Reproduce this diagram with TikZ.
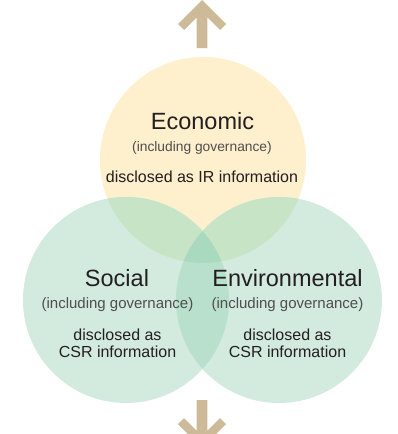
\documentclass[tikz,border=0pt]{standalone}
\usepackage{fontspec}
\setmainfont{Liberation Sans}
\definecolor{econfill}{HTML}{FEEFCD}
\definecolor{greenfill}{HTML}{D3EADF}
\definecolor{greengreen}{HTML}{B9E0CC}
\definecolor{econgreen}{HTML}{C8E4C6}
\definecolor{allthree}{HTML}{A9DABF}
\definecolor{arrowtan}{HTML}{CDBA98}
\definecolor{ink}{HTML}{231F20}
\definecolor{subink}{HTML}{4F4D4E}
\tikzset{
  heading/.style={anchor=base, inner sep=0pt, text=ink, font=\fontsize{23.5}{26}\selectfont},
  subhead/.style={anchor=base, inner sep=0pt, text=subink, font=\fontsize{15}{17}\selectfont},
  subheadsmall/.style={anchor=base, inner sep=0pt, text=subink, font=\fontsize{13.8}{16}\selectfont},
  bodytext/.style={anchor=base, inner sep=0pt, text=ink, font=\fontsize{16}{18}\selectfont},
  bigarrow/.style={fill=arrowtan, draw=none}
}
\begin{document}
\begin{tikzpicture}[x=1pt,y=-1pt]
\useasboundingbox (0,0) rectangle (398,434);
\clip (0,0) rectangle (398,434);
\def\R{103}
% circle centres
\coordinate (E) at (203,160);
\coordinate (S) at (126,300);
\coordinate (V) at (279,300);

% base discs
\fill[econfill] (E) circle[radius=\R];
\fill[greenfill] (S) circle[radius=\R];
\fill[greenfill] (V) circle[radius=\R];
% social / environmental overlap
\begin{scope}
  \clip (S) circle[radius=\R];
  \fill[greengreen] (V) circle[radius=\R];
\end{scope}
% economic overlaps
\begin{scope}
  \clip (E) circle[radius=\R];
  \fill[econgreen] (S) circle[radius=\R];
  \fill[econgreen] (V) circle[radius=\R];
\end{scope}
% centre, common to all three
\begin{scope}
  \clip (E) circle[radius=\R];
  \clip (S) circle[radius=\R];
  \fill[allthree] (V) circle[radius=\R];
\end{scope}

% upward and downward arrows
\fill[bigarrow] (202,0) -- (178,24) -- (184,30) -- (196.7,17.3) -- (196.7,48)
  -- (207.3,48) -- (207.3,17.3) -- (220,30) -- (226,24) -- cycle;
\fill[bigarrow] (202,448) -- (178,424) -- (184,418) -- (196.7,430.7) -- (196.7,400)
  -- (207.3,400) -- (207.3,430.7) -- (220,418) -- (226,424) -- cycle;

% labels
\node[heading] (econ) at (202.5,129.3) {Economic};
\node[subheadsmall] (econsub) at (202,151.7) {(including governance)};
\node[bodytext] (econbody) at (202,182.7) {disclosed as IR information};

\node[heading] (soc) at (117,286.7) {Social};
\node[subhead] (socsub) at (117.5,308) {(including governance)};
\node[bodytext] (socbodya) at (117.5,340) {disclosed as};
\node[bodytext] (socbodyb) at (117.5,357.3) {CSR information};

\node[heading] (env) at (287.5,286.7) {Environmental};
\node[subhead] (envsub) at (287.5,308) {(including governance)};
\node[bodytext] (envbodya) at (287.5,340) {disclosed as};
\node[bodytext] (envbodyb) at (287.5,357.3) {CSR information};
\end{tikzpicture}
\end{document}
